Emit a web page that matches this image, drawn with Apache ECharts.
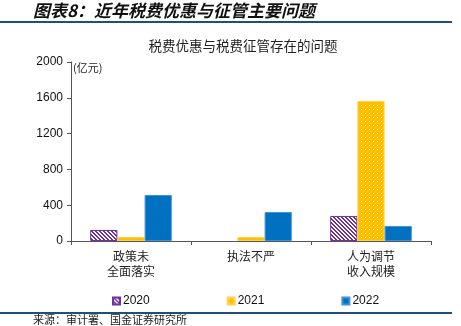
<!DOCTYPE html>
<html>
<head>
<meta charset="utf-8">
<script src="https://cdn.jsdelivr.net/npm/echarts@6/dist/echarts.min.js"></script>
<style>
  html, body { margin: 0; padding: 0; background: #fff; }
  #chart { width: 461px; height: 326px; }
</style>
</head>
<body>
<div id="chart"></div>
<script>
// Problems found in tax incentives and tax administration (unit: 100 million yuan)
const categories = ['政策未\n全面落实', '执法不严', '人为调节\n收入规模'];
const seriesNames = ['2020', '2021', '2022'];
const values2020 = [123, 0, 280];
const values2021 = [45, 45, 1565];
const values2022 = [514, 324, 168];
const yTicks = { min: 0, max: 2000, interval: 400 };

const CJK = '"Noto Sans CJK SC", "Noto Sans", sans-serif';
const LATIN = '"Liberation Sans", Arial, sans-serif';

// Diagonal purple/white stripes
function stripePattern() {
  const c = document.createElement('canvas');
  c.width = 4; c.height = 4;
  const g = c.getContext('2d');
  g.fillStyle = '#ffffff';
  g.fillRect(0, 0, 4, 4);
  g.fillStyle = '#7030a0';
  for (let i = 0; i < 4; i++) {
    g.fillRect(i, i, 1, 1);
    g.fillRect((i + 1) % 4, i, 1, 1);
  }
  return { image: c, repeat: 'repeat' };
}

// Yellow with light dots
function dotPattern() {
  const c = document.createElement('canvas');
  c.width = 4; c.height = 4;
  const g = c.getContext('2d');
  g.fillStyle = '#ffc000';
  g.fillRect(0, 0, 4, 4);
  g.fillStyle = '#fff3c4';
  g.fillRect(1, 1, 1, 1);
  return { image: c, repeat: 'repeat' };
}

const chart = echarts.init(document.getElementById('chart'), null, { renderer: 'canvas' });

const fills = [stripePattern(), dotPattern(), '#0070c0'];
const borders = ['#7030a0', '#ffd24d', '#3f93d6'];
const data = [values2020, values2021, values2022];

// Zero-valued bars get no outline so nothing is drawn for them
function toBarData(arr) {
  return arr.map(v => (v === 0 ? { value: v, itemStyle: { borderWidth: 0 } } : v));
}

chart.setOption({
  animation: false,
  backgroundColor: '#ffffff',
  title: {
    text: '税费优惠与税费征管存在的问题',
    left: 238,
    textAlign: 'center',
    top: 34,
    textStyle: { fontFamily: CJK, fontSize: 13.5, fontWeight: 'normal', color: '#222' }
  },
  graphic: [
    {
      type: 'text', left: 33, top: 2,
      style: { text: '图表8：近年税费优惠与征管主要问题', fontFamily: CJK, fontSize: 17,
               fontWeight: 'bold', fontStyle: 'italic', fill: '#111' }
    },
    { type: 'rect', shape: { x: 0, y: 21, width: 452, height: 2 }, style: { fill: '#1f4e79' } },
    { type: 'rect', shape: { x: 0, y: 312, width: 452, height: 2 }, style: { fill: '#1f4e79' } },
    {
      type: 'text', left: 33, top: 314,
      style: { text: '来源：审计署、国金证券研究所', fontFamily: CJK, fontSize: 11, fill: '#222' }
    }
  ],
  legend: {
    data: seriesNames,
    left: 107,
    top: 290,
    itemWidth: 7,
    itemHeight: 7,
    itemGap: 77,
    icon: 'rect',
    textStyle: { fontFamily: LATIN, fontSize: 12, color: '#111', padding: [0, 0, 0, -2] }
  },
  grid: { left: 71, right: 30, top: 62, bottom: 85, containLabel: false },
  xAxis: {
    type: 'category',
    data: categories,
    axisLine: { lineStyle: { color: '#555', width: 1 } },
    axisTick: { show: true, alignWithLabel: false, length: 4, lineStyle: { color: '#555' } },
    axisLabel: { fontFamily: CJK, fontSize: 12, color: '#222', lineHeight: 15, margin: 8 }
  },
  yAxis: {
    type: 'value',
    min: yTicks.min,
    max: yTicks.max,
    interval: yTicks.interval,
    name: '(亿元)',
    nameLocation: 'end',
    nameGap: 0,
    nameTextStyle: { fontFamily: CJK, fontSize: 11, color: '#222', align: 'left', padding: [0, 0, 0, 2], verticalAlign: 'top' },
    axisLine: { show: true, lineStyle: { color: '#555', width: 1 } },
    axisTick: { show: true, length: 4, lineStyle: { color: '#555' } },
    splitLine: { show: false },
    axisLabel: { fontFamily: LATIN, fontSize: 12, color: '#111', margin: 8, formatter: v => String(v) }
  },
  series: seriesNames.map((name, i) => ({
    name,
    type: 'bar',
    data: toBarData(data[i]),
    barGap: '0%',
    barCategoryGap: '32%',
    itemStyle: { color: fills[i], borderColor: borders[i], borderWidth: 1 }
  }))
});
</script>
</body>
</html>
